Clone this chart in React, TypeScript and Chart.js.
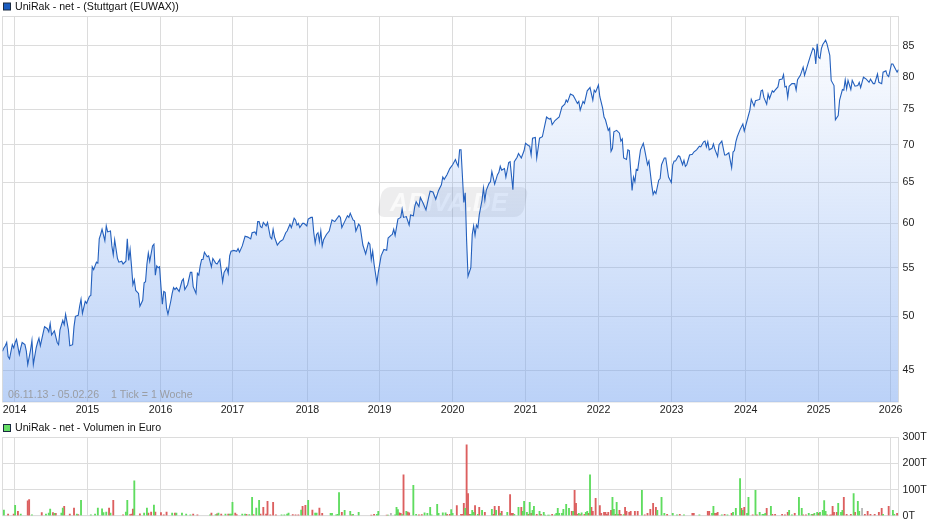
import { useEffect, useRef } from 'react'
import { Chart, registerables } from 'chart.js'
import type { Plugin, Scale } from 'chart.js'

Chart.register(...registerables)

const priceTitle = 'UniRak - net - (Stuttgart (EUWAX))'
const volumeTitle = 'UniRak - net - Volumen in Euro'
const rangeNote = '06.11.13 - 05.02.26'
const tickNote = '1 Tick = 1 Woche'
const watermark = 'ARIVA.DE'

// x position is the week number counted from 06.11.13
const lastWeek = 639
const yearLabels = ['2014', '2015', '2016', '2017', '2018', '2019', '2020', '2021', '2022', '2023', '2024', '2025', '2026']
const yearWeeks = [8.6, 60.6, 112.7, 164, 217.5, 268.9, 321, 373, 425.1, 477.2, 530, 582, 633.4]
const priceTicks = [45, 50, 55, 60, 65, 70, 75, 80, 85]
const volumeTicks = [0, 100, 200, 300]

const priceWeeks = [
  0, 1, 2, 3, 4, 5, 7, 8, 9, 10,
  12, 13, 14, 16, 17, 18, 20, 21, 22, 24,
  25, 26, 27, 29, 30, 32, 33, 34, 35, 37,
  39, 40, 41, 43, 44, 45, 47, 48, 50, 51,
  52, 54, 55, 56, 57, 59, 60, 62, 63, 64,
  65, 67, 68, 69, 70, 71, 73, 74, 75, 77,
  78, 79, 80, 82, 83, 85, 86, 88, 89, 90,
  91, 92, 93, 94, 95, 97, 98, 100, 101, 102,
  103, 104, 105, 107, 108, 109, 110, 111, 112, 113,
  114, 115, 116, 117, 118, 120, 121, 122, 123, 124,
  126, 128, 129, 130, 132, 134, 135, 136, 138, 139,
  140, 141, 142, 143, 144, 146, 147, 149, 150, 152,
  153, 155, 157, 158, 160, 161, 162, 163, 165, 167,
  168, 169, 171, 173, 175, 177, 178, 180, 181, 182,
  183, 184, 185, 186, 188, 189, 191, 192, 193, 194,
  196, 198, 200, 202, 203, 205, 206, 208, 209, 210,
  211, 212, 214, 215, 217, 218, 220, 221, 222, 223,
  224, 225, 226, 227, 228, 229, 231, 233, 235, 237,
  240, 241, 242, 244, 246, 247, 248, 250, 251, 252,
  254, 255, 257, 259, 261, 262, 263, 264, 265, 267,
  268, 270, 272, 274, 275, 277, 278, 279, 280, 282,
  284, 285, 286, 288, 290, 291, 293, 294, 295, 297,
  298, 300, 302, 304, 305, 307, 309, 311, 313, 314,
  315, 317, 319, 321, 323, 324, 325, 326, 327, 329,
  330, 331, 332, 334, 335, 336, 337, 338, 339, 340,
  342, 343, 344, 345, 347, 348, 349, 351, 353, 354,
  355, 356, 358, 359, 361, 362, 364, 365, 367, 368,
  370, 372, 373, 375, 376, 377, 378, 380, 381, 383,
  385, 388, 390, 391, 392, 394, 397, 399, 401, 402,
  403, 405, 407, 408, 410, 411, 412, 414, 415, 417,
  419, 421, 422, 423, 425, 426, 428, 429, 430, 432,
  433, 434, 435, 436, 438, 440, 441, 442, 443, 445,
  446, 447, 449, 450, 451, 452, 453, 455, 457, 458,
  460, 461, 463, 464, 465, 466, 468, 469, 470, 472,
  473, 475, 477, 478, 479, 480, 482, 483, 485, 486,
  487, 488, 490, 492, 493, 495, 497, 498, 500, 501,
  502, 503, 504, 506, 507, 508, 510, 511, 513, 515,
  516, 518, 520, 521, 522, 523, 524, 526, 528, 529,
  531, 533, 534, 536, 537, 540, 541, 542, 543, 545,
  546, 547, 549, 550, 551, 553, 554, 556, 557, 558,
  559, 560, 561, 563, 565, 566, 567, 569, 571, 572,
  574, 576, 578, 579, 580, 581, 582, 583, 584, 585,
  587, 588, 590, 591, 593, 594, 596, 597, 599, 600,
  601, 602, 603, 605, 606, 608, 610, 611, 612, 614,
  616, 618, 619, 621, 622, 624, 625, 627, 628, 630,
  631, 632, 634, 635, 637, 638, 639,
]

const prices = [
  46.7, 47.0, 47.2, 47.5, 46.2, 46.0, 47.3, 47.0, 47.5, 47.8,
  46.4, 47.0, 47.5, 47.3, 46.7, 45.5, 46.8, 47.7, 45.5, 47.0,
  47.5, 47.9, 47.2, 48.4, 49.0, 48.8, 48.5, 49.3, 48.2, 48.6,
  47.5, 47.3, 48.7, 49.6, 49.2, 50.2, 48.7, 47.2, 47.3, 49.0,
  50.0, 50.1, 51.0, 51.7, 50.3, 51.5, 51.3, 52.0, 52.1, 55.1,
  54.8, 55.6, 55.5, 58.2, 58.7, 59.3, 58.0, 59.7, 59.0, 59.1,
  57.4, 56.4, 58.1, 56.0, 55.6, 55.7, 55.4, 55.7, 58.2, 55.8,
  57.0, 55.2, 53.2, 53.7, 52.6, 52.3, 51.0, 51.6, 53.4, 53.5,
  55.4, 56.6, 55.7, 57.4, 57.6, 54.2, 55.2, 55.0, 55.1, 53.0,
  51.2, 52.5, 52.4, 50.8, 50.2, 51.5, 52.3, 52.9, 52.7, 52.9,
  52.5, 53.6, 53.8, 52.7, 53.2, 54.5, 54.5, 53.0, 52.3, 54.4,
  54.2, 55.2, 55.9, 55.9, 56.7, 56.2, 56.3, 55.1, 56.0, 55.5,
  55.4, 55.9, 53.5, 54.5, 55.0, 54.4, 56.3, 56.8, 56.9, 56.8,
  57.1, 56.7, 57.4, 58.5, 58.4, 58.2, 58.9, 59.0, 58.7, 60.2,
  60.2, 59.6, 59.5, 60.1, 59.7, 60.1, 58.4, 58.2, 59.3, 58.4,
  57.5, 57.9, 58.1, 58.9, 59.1, 59.9, 59.5, 60.6, 60.4, 59.8,
  60.0, 59.5, 60.0, 60.0, 59.7, 60.5, 60.7, 60.7, 58.9, 57.7,
  58.7, 58.9, 57.9, 59.1, 57.4, 58.1, 58.7, 59.1, 60.4, 60.2,
  60.9, 60.7, 59.5, 60.2, 60.9, 60.7, 61.2, 60.4, 60.3, 59.1,
  59.9, 59.7, 57.5, 56.5, 57.8, 57.6, 55.9, 56.8, 55.4, 53.4,
  54.5, 56.3, 57.0, 56.9, 58.3, 58.6, 58.7, 59.3, 58.6, 60.5,
  60.7, 61.7, 60.7, 60.8, 59.8, 61.0, 60.9, 62.0, 62.6, 62.0,
  63.1, 62.4, 61.6, 63.2, 63.9, 63.8, 62.9, 64.0, 64.7, 65.7,
  65.4, 66.0, 66.8, 67.3, 68.0, 67.5, 67.1, 69.3, 69.3, 62.5,
  63.7, 58.0, 54.1, 55.0, 58.7, 59.7, 58.6, 59.8, 59.5, 61.0,
  62.8, 64.3, 62.8, 64.0, 64.9, 65.1, 66.4, 64.8, 66.0, 66.3,
  67.1, 66.6, 66.8, 65.7, 67.6, 67.7, 64.1, 67.7, 68.3, 68.8,
  68.2, 69.2, 70.2, 69.9, 69.8, 68.6, 70.9, 71.0, 68.2, 70.9,
  71.1, 73.9, 73.6, 73.7, 72.8, 73.4, 73.9, 75.4, 75.8, 76.4,
  76.1, 77.3, 77.1, 76.7, 75.9, 76.2, 74.9, 76.2, 75.9, 77.8,
  78.3, 76.4, 77.9, 77.6, 78.7, 76.9, 75.2, 73.9, 73.5, 72.0,
  72.3, 69.1, 69.5, 71.8, 72.0, 71.6, 70.5, 70.8, 68.2, 68.0,
  69.3, 69.2, 64.0, 65.7, 65.1, 66.7, 66.6, 69.3, 70.2, 69.3,
  67.3, 67.8, 64.7, 63.5, 63.9, 63.6, 65.3, 65.5, 67.3, 68.2,
  68.2, 65.7, 65.0, 67.3, 67.8, 67.8, 68.5, 68.4, 67.3, 67.9,
  67.1, 67.3, 68.6, 68.7, 69.0, 69.3, 69.8, 69.7, 70.4, 70.5,
  69.7, 70.4, 69.3, 69.5, 70.1, 69.4, 68.4, 70.0, 70.5, 68.6,
  68.6, 68.9, 66.9, 69.0, 69.2, 70.4, 71.1, 72.1, 72.9, 71.9,
  73.4, 74.9, 76.5, 75.5, 76.3, 76.5, 77.8, 77.9, 76.8, 75.8,
  77.3, 76.6, 77.8, 77.6, 77.9, 78.4, 79.5, 79.6, 80.3, 78.4,
  78.5, 76.8, 78.5, 78.9, 78.9, 77.9, 79.5, 80.2, 81.5, 80.2,
  81.7, 83.2, 84.6, 84.3, 82.0, 85.3, 83.1, 82.9, 84.5, 85.2,
  85.9, 85.3, 83.4, 79.4, 78.6, 73.5, 74.1, 76.4, 78.0, 77.9,
  79.5, 78.1, 79.4, 78.0, 79.4, 78.5, 78.6, 79.1, 78.3, 79.9,
  79.6, 79.1, 79.6, 78.9, 78.9, 80.4, 79.1, 78.9, 80.7, 80.9,
  80.2, 80.0, 82.0, 82.0, 81.1, 80.7, 81.1,
]

// weekly volume in thousand euro, split by the direction of the week
const upWeeks = [
  1, 9, 13, 21, 31, 33, 34, 37, 42, 43,
  53, 56, 63, 66, 68, 71, 72, 74, 77, 88,
  89, 94, 101, 103, 108, 121, 124, 128, 131, 134,
  148, 152, 154, 159, 162, 163, 164, 171, 173, 176,
  178, 181, 183, 199, 201, 203, 204, 213, 218, 223,
  224, 234, 235, 238, 239, 240, 244, 248, 250, 254,
  267, 268, 275, 280, 281, 282, 285, 288, 293, 295,
  301, 303, 305, 306, 310, 311, 314, 316, 320, 321,
  330, 334, 335, 336, 339, 342, 349, 352, 355, 360,
  365, 368, 371, 372, 374, 376, 378, 379, 383, 386,
  387, 389, 390, 394, 395, 396, 397, 399, 400, 402,
  404, 407, 411, 413, 416, 417, 419, 435, 436, 438,
  439, 443, 456, 467, 470, 472, 478, 481, 486, 497,
  506, 507, 513, 517, 521, 523, 526, 528, 531, 532,
  537, 540, 542, 543, 544, 548, 561, 563, 568, 570,
  575, 577, 579, 581, 583, 585, 586, 587, 596, 598,
  599, 607, 610, 611, 628, 635, 636,
]
const upVolume = [
  21, 40, 6, 3, 6, 10, 25, 9, 10, 29,
  6, 59, 3, 6, 29, 26, 12, 14, 10, 14,
  59, 134, 10, 29, 41, 10, 10, 10, 6, 3,
  3, 4, 10, 6, 6, 6, 51, 6, 6, 4,
  70, 29, 59, 3, 3, 6, 10, 21, 59, 10,
  10, 9, 9, 3, 5, 89, 20, 17, 5, 13,
  5, 17, 2, 3, 32, 23, 4, 17, 116, 5,
  11, 9, 32, 3, 43, 9, 11, 11, 23, 9,
  28, 5, 20, 13, 5, 20, 24, 20, 9, 13,
  5, 32, 17, 55, 13, 51, 20, 36, 17, 13,
  2, 2, 2, 3, 9, 28, 9, 9, 24, 43,
  28, 17, 9, 11, 13, 17, 157, 70, 24, 51,
  5, 4, 97, 20, 70, 9, 9, 3, 3, 3,
  9, 36, 3, 3, 13, 28, 142, 20, 9, 70,
  97, 13, 5, 5, 9, 36, 20, 3, 70, 28,
  9, 5, 9, 13, 13, 20, 58, 17, 47, 13,
  20, 85, 55, 17, 5, 20, 5,
]
const downWeeks = [
  4, 8, 11, 18, 19, 28, 36, 38, 44, 48,
  51, 54, 76, 79, 86, 91, 92, 93, 98, 104,
  106, 109, 113, 115, 117, 123, 136, 139, 149, 153,
  156, 161, 166, 167, 174, 179, 184, 186, 188, 189,
  191, 193, 195, 207, 209, 211, 214, 216, 221, 226,
  228, 242, 249, 263, 265, 274, 283, 284, 286, 289,
  290, 297, 299, 317, 319, 324, 327, 328, 329, 331,
  332, 333, 337, 340, 344, 350, 351, 354, 356, 362,
  363, 364, 370, 375, 377, 381, 384, 392, 406, 408,
  409, 410, 412, 415, 418, 420, 421, 423, 426, 427,
  429, 430, 431, 432, 434, 437, 440, 441, 444, 445,
  447, 448, 451, 453, 458, 460, 462, 464, 466, 474,
  483, 492, 493, 503, 504, 508, 509, 510, 515, 520,
  527, 529, 535, 538, 545, 549, 551, 556, 558, 560,
  565, 571, 573, 578, 582, 588, 590, 591, 592, 593,
  595, 600, 602, 605, 608, 615, 617, 619, 622, 625,
  627, 632, 638,
]
const downVolume = [
  6, 6, 17, 57, 62, 12, 12, 9, 36, 6,
  29, 4, 29, 59, 3, 4, 6, 25, 7, 10,
  14, 14, 12, 3, 14, 10, 6, 3, 10, 7,
  6, 6, 10, 4, 5, 4, 6, 32, 6, 55,
  3, 51, 3, 4, 3, 3, 36, 40, 21, 29,
  9, 13, 3, 2, 5, 2, 11, 9, 157, 14,
  11, 3, 4, 5, 5, 39, 5, 5, 47, 272,
  85, 5, 39, 32, 13, 5, 36, 36, 17, 81,
  9, 9, 32, 5, 9, 5, 5, 5, 17, 97,
  47, 5, 4, 5, 9, 32, 17, 66, 39, 9,
  13, 13, 5, 13, 20, 5, 20, 5, 32, 17,
  13, 17, 17, 17, 3, 9, 24, 47, 32, 5,
  5, 9, 9, 17, 17, 9, 9, 13, 5, 9,
  28, 32, 3, 3, 28, 5, 5, 5, 3, 13,
  9, 3, 3, 5, 9, 3, 2, 3, 36, 13,
  13, 70, 5, 5, 13, 5, 17, 5, 5, 13,
  28, 36, 9,
]
const flatWeeks = [277, 613]
const flatVolume = [9, 28]

const gridColor = '#dcdcdc'
const tickColor = '#222222'
const labelFont = { family: '"Liberation Sans", Arial, sans-serif', size: 10.6 }
const canvasFont = '10.6px "Liberation Sans", Arial, sans-serif'

const toPoints = (xs: number[], ys: number[]) => xs.map((x, i) => ({ x, y: ys[i] }))

// frame around the plot and the small heading with its colour box
const panelPlugin = (title: string, boxColor: string, titleY: number): Plugin => ({
  id: 'panel',
  beforeDatasetsDraw(chart) {
    const { ctx, chartArea: a } = chart
    ctx.save()
    ctx.strokeStyle = gridColor
    ctx.lineWidth = 1
    ctx.strokeRect(a.left, a.top, a.right - a.left, a.bottom - a.top)
    ctx.restore()
  },
  afterDraw(chart) {
    const { ctx } = chart
    ctx.save()
    ctx.fillStyle = boxColor
    ctx.strokeStyle = '#1a2a40'
    ctx.fillRect(3.5, titleY - 3.5, 7, 7)
    ctx.strokeRect(3.5, titleY - 3.5, 7, 7)
    ctx.fillStyle = '#111111'
    ctx.font = canvasFont
    ctx.textBaseline = 'middle'
    ctx.fillText(title, 15, titleY + 0.5)
    ctx.restore()
  },
})

const watermarkPlugin: Plugin = {
  id: 'watermark',
  beforeDatasetsDraw(chart) {
    const { ctx } = chart
    ctx.save()
    ctx.transform(1, 0, -0.22, 1, 44, 0)
    ctx.fillStyle = 'rgba(90, 90, 100, 0.11)'
    ctx.beginPath()
    ctx.roundRect(380, 187, 146, 30, 8)
    ctx.fill()
    ctx.restore()
    ctx.save()
    ctx.fillStyle = 'rgba(255, 255, 255, 0.7)'
    ctx.font = 'italic bold 25px "Liberation Sans", Arial, sans-serif'
    ctx.textBaseline = 'middle'
    ctx.fillText(watermark, 390, 204)
    ctx.restore()
  },
}

const notePlugin: Plugin = {
  id: 'note',
  afterDraw(chart) {
    const { ctx, chartArea: a } = chart
    ctx.save()
    ctx.fillStyle = '#9a9da3'
    ctx.font = canvasFont
    ctx.textBaseline = 'middle'
    ctx.fillText(rangeNote, a.left + 5.5, a.bottom - 7)
    ctx.fillText(tickNote, a.left + 108.5, a.bottom - 7)
    ctx.restore()
  },
}

const yearAxis = (showLabels: boolean, height: number) => ({
  type: 'linear' as const,
  min: 0,
  max: lastWeek,
  offset: false,
  afterBuildTicks: (axis: Scale) => {
    axis.ticks = yearWeeks.map((value) => ({ value }))
  },
  afterFit: (axis: Scale) => {
    axis.height = height
  },
  grid: { color: gridColor, drawTicks: false, offset: false },
  border: { display: false },
  ticks: {
    display: showLabels,
    autoSkip: false,
    maxRotation: 0,
    padding: 2,
    color: tickColor,
    font: labelFont,
    callback: (value: number | string) => yearLabels[yearWeeks.indexOf(Number(value))],
  },
})

const PriceChart = () => {
  const canvasRef = useRef<HTMLCanvasElement>(null)

  useEffect(() => {
    const chart = new Chart(canvasRef.current!, {
      type: 'line',
      data: {
        datasets: [
          {
            label: priceTitle,
            data: toPoints(priceWeeks, prices),
            borderColor: '#2460bd',
            borderWidth: 1.1,
            pointRadius: 0,
            tension: 0,
            fill: 'start',
            backgroundColor: (context: any) => {
              const { ctx, chartArea } = context.chart
              if (!chartArea) return 'rgba(120, 165, 240, 0.25)'
              const gradient = ctx.createLinearGradient(0, chartArea.top, 0, chartArea.bottom)
              gradient.addColorStop(0, 'rgba(120, 165, 240, 0)')
              gradient.addColorStop(1, 'rgba(120, 165, 240, 0.5)')
              return gradient
            },
          },
        ],
      },
      options: {
        animation: false,
        responsive: false,
        layout: { padding: { left: 2.5, top: 16.5, right: 0, bottom: 0 } },
        plugins: { legend: { display: false }, tooltip: { enabled: false } },
        scales: {
          x: yearAxis(true, 18),
          y: {
            type: 'logarithmic',
            position: 'right',
            min: 42.27,
            max: 90,
            afterBuildTicks: (axis: Scale) => {
              axis.ticks = priceTicks.map((value) => ({ value }))
            },
            afterFit: (axis: Scale) => {
              axis.width = 41.5
            },
            grid: { color: gridColor, drawTicks: false },
            border: { display: false },
            ticks: {
              autoSkip: false,
              padding: 4,
              color: tickColor,
              font: labelFont,
              callback: (value: number | string) => String(value),
            },
          },
        },
      },
      plugins: [panelPlugin(priceTitle, '#1a5cc0', 6.5), watermarkPlugin, notePlugin],
    })

    return () => chart.destroy()
  }, [])

  return (
    <canvas
      ref={canvasRef}
      width={940}
      height={420}
      style={{ position: 'absolute', left: 0, top: 0 }}
    ></canvas>
  )
}

const VolumeChart = () => {
  const canvasRef = useRef<HTMLCanvasElement>(null)

  useEffect(() => {
    const chart = new Chart(canvasRef.current!, {
      type: 'bar',
      data: {
        datasets: [
          { label: 'up', data: toPoints(upWeeks, upVolume), backgroundColor: '#5fdc5f', barThickness: 1.2 },
          { label: 'down', data: toPoints(downWeeks, downVolume), backgroundColor: '#dc5f5f', barThickness: 1.2 },
          { label: 'flat', data: toPoints(flatWeeks, flatVolume), backgroundColor: '#b8b8b8', barThickness: 1.2 },
        ],
      },
      options: {
        animation: false,
        responsive: false,
        layout: { padding: { left: 2.5, top: 17.5, right: 0, bottom: 0 } },
        datasets: { bar: { grouped: false } },
        plugins: { legend: { display: false }, tooltip: { enabled: false } },
        scales: {
          x: yearAxis(false, 9.5),
          y: {
            type: 'linear',
            position: 'right',
            min: 0,
            max: 300,
            afterBuildTicks: (axis: Scale) => {
              axis.ticks = volumeTicks.map((value) => ({ value }))
            },
            afterFit: (axis: Scale) => {
              axis.width = 41.5
            },
            grid: { color: gridColor, drawTicks: false },
            border: { display: false },
            ticks: {
              autoSkip: false,
              padding: 4,
              color: tickColor,
              font: labelFont,
              callback: (value: number | string) => `${value}T`,
            },
          },
        },
      },
      plugins: [panelPlugin(volumeTitle, '#66dd66', 8)],
    })

    return () => chart.destroy()
  }, [])

  return (
    <canvas
      ref={canvasRef}
      width={940}
      height={106}
      style={{ position: 'absolute', left: 0, top: 420 }}
    ></canvas>
  )
}

const App = () => (
  <div style={{ position: 'absolute', left: 0, top: 0, width: 940, height: 526, overflow: 'hidden' }}>
    <PriceChart />
    <VolumeChart />
  </div>
)

export default App
